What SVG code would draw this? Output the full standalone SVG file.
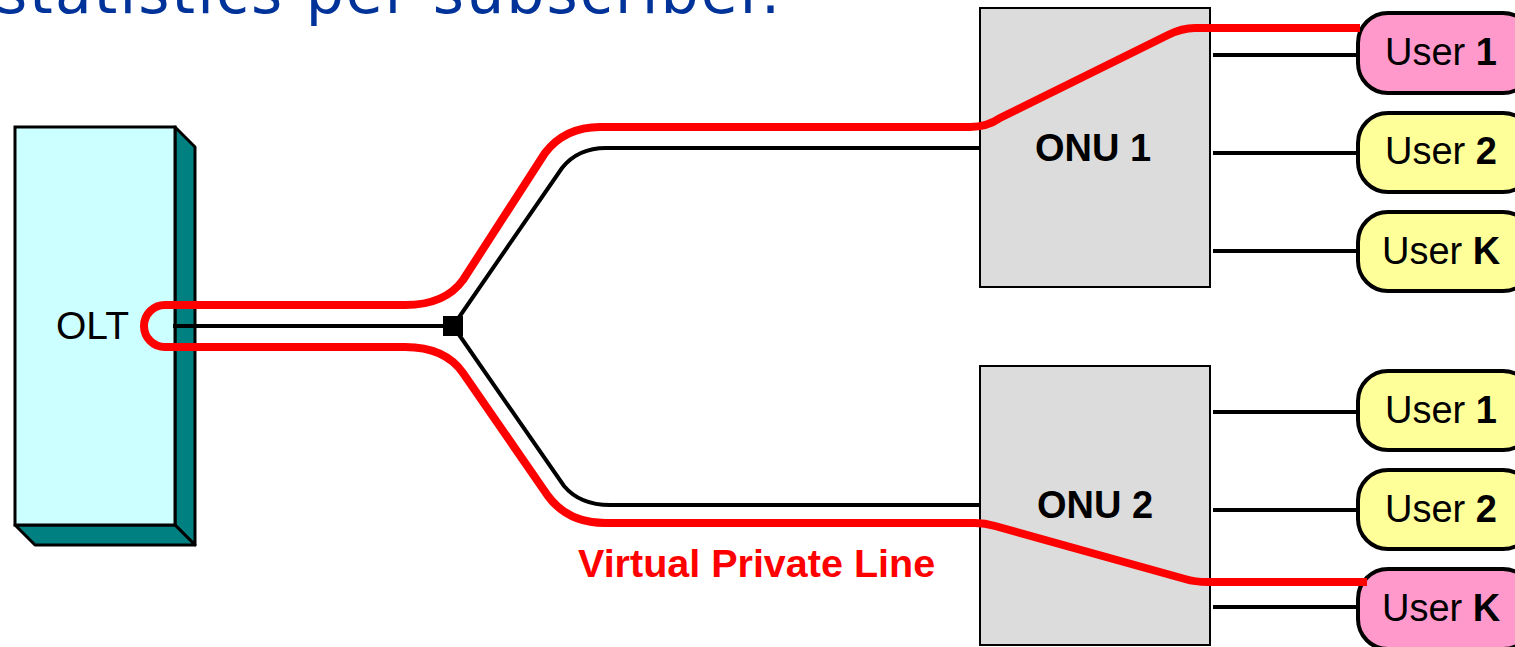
<svg xmlns="http://www.w3.org/2000/svg" width="1515" height="647" viewBox="0 0 1515 647">
<style>
.lbl{font-family:"Liberation Sans",Arial,sans-serif;fill:#000}
.b{font-weight:bold}
.onu{fill:#DCDCDC;stroke:#000;stroke-width:2}
.usr{stroke:#000;stroke-width:4}
.pink{fill:#FF99CC}
.yel{fill:#FFFF99}
.blk{fill:none;stroke:#000;stroke-width:4}
.red{fill:none;stroke:#FF0000;stroke-width:8;stroke-linejoin:round}
</style>
<rect width="1515" height="647" fill="#fff"/>
<text x="-4" y="13" font-family="DejaVu Sans,sans-serif" font-size="60" fill="#003399" textLength="784" lengthAdjust="spacing">statistics per subscriber.</text>

<g id="olt">
<polygon points="175,127 195,147 195,545 175,525" fill="#008080" stroke="#000" stroke-width="3" stroke-linejoin="round"/>
<polygon points="15,525 175,525 195,545 35,545" fill="#008080" stroke="#000" stroke-width="3" stroke-linejoin="round"/>
<rect x="15" y="127" width="160" height="398" fill="#CCFFFF" stroke="#000" stroke-width="3"/>
<text class="lbl" x="56" y="339" font-size="39">OLT</text>
</g>

<g id="splitter"><rect x="443" y="316" width="20" height="20" fill="#000"/></g>

<g id="onu1"><rect class="onu" x="980" y="8" width="230" height="279"/>
<text class="lbl b" x="1093" y="161" font-size="38" text-anchor="middle">ONU 1</text></g>
<g id="onu2"><rect class="onu" x="980" y="366" width="230" height="279"/>
<text class="lbl b" x="1095" y="518" font-size="38" text-anchor="middle">ONU 2</text></g>

<g id="u1a"><rect class="usr pink" x="1358" y="13" width="175" height="80" rx="30"/>
<text class="lbl" x="1385" y="65" font-size="38">User <tspan class="b">1</tspan></text></g>
<g id="u2a"><rect class="usr yel" x="1358" y="113" width="175" height="79" rx="30"/>
<text class="lbl" x="1385" y="164" font-size="38">User <tspan class="b">2</tspan></text></g>
<g id="uka"><rect class="usr yel" x="1358" y="212" width="175" height="79" rx="30"/>
<text class="lbl" x="1382" y="264" font-size="38">User <tspan class="b">K</tspan></text></g>
<g id="u1b"><rect class="usr yel" x="1358" y="371" width="175" height="79" rx="30"/>
<text class="lbl" x="1385" y="423" font-size="38">User <tspan class="b">1</tspan></text></g>
<g id="u2b"><rect class="usr yel" x="1358" y="470" width="175" height="79" rx="30"/>
<text class="lbl" x="1385" y="522" font-size="38">User <tspan class="b">2</tspan></text></g>
<g id="ukb"><rect class="usr pink" x="1358" y="569" width="175" height="80" rx="30"/>
<text class="lbl" x="1382" y="621" font-size="38">User <tspan class="b">K</tspan></text></g>

<g id="connectors">
<path class="blk" d="M173 326 L453 326"/>
<path class="blk" d="M453 326 L562 168 Q578 148 606 148 L980 148"/>
<path class="blk" d="M453 326 L564 486 Q580 505 610 505 L980 505"/>
<path class="blk" d="M1213 55 H1358 M1213 153 H1358 M1213 251 H1358 M1213 412 H1358 M1213 510 H1358 M1213 607 H1358"/>
<path class="red" d="M1360 28 L1195 28 Q1182 28 1168 35 L1000 118 Q987 127 970 127 L600 127 Q565 127 545 153 L463 280 Q445 305 405 305 L165 305 A21 21 0 0 0 165 347 L405 347 Q445 347 463 373 L548 496 Q568 523 605 523 L975 523 Q985 523 995 526 L1185 579 Q1195 582 1208 582 L1367 582"/>
<text x="578" y="577" font-family="Liberation Sans,Arial,sans-serif" font-size="39.5" font-weight="bold" fill="#FF0000">Virtual Private Line</text>
</g>
</svg>
